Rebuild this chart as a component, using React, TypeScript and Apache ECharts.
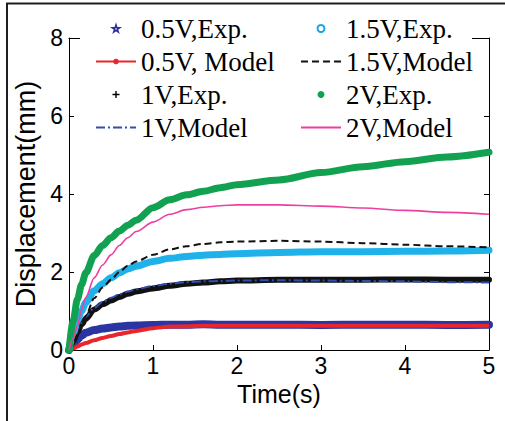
import React, { useEffect, useRef } from "react";
import * as echarts from "echarts";

const timeS = [0, 0.05, 0.1, 0.15, 0.2, 0.3, 0.4, 0.5, 0.6, 0.7, 0.8, 1.0, 1.2, 1.4, 1.6, 1.8, 2.0, 2.5, 3.0, 3.5, 4.0, 4.5, 5.0];

const exp05 = [0, 0.15, 0.27, 0.37, 0.44, 0.51, 0.55, 0.58, 0.6, 0.62, 0.63, 0.64, 0.65, 0.65, 0.66, 0.65, 0.65, 0.65, 0.64, 0.65, 0.65, 0.64, 0.65];
const model05 = [0, 0.04, 0.09, 0.14, 0.18, 0.25, 0.31, 0.36, 0.41, 0.45, 0.49, 0.56, 0.6, 0.61, 0.62, 0.62, 0.62, 0.62, 0.62, 0.62, 0.62, 0.62, 0.62];
const exp1 = [0, 0.22, 0.45, 0.66, 0.8, 1.04, 1.17, 1.27, 1.36, 1.44, 1.5, 1.58, 1.65, 1.7, 1.73, 1.76, 1.78, 1.8, 1.8, 1.8, 1.81, 1.8, 1.8];
const model1 = [0, 0.25, 0.5, 0.7, 0.85, 1.08, 1.23, 1.34, 1.43, 1.5, 1.56, 1.64, 1.7, 1.74, 1.76, 1.77, 1.78, 1.79, 1.78, 1.77, 1.76, 1.74, 1.73];
const exp15 = [0, 0.42, 0.76, 1.0, 1.22, 1.52, 1.7, 1.85, 1.98, 2.08, 2.15, 2.27, 2.35, 2.4, 2.43, 2.45, 2.47, 2.5, 2.52, 2.52, 2.53, 2.54, 2.56];
const model15 = [0, 0.15, 0.4, 0.65, 0.88, 1.33, 1.6, 1.8, 2.0, 2.16, 2.27, 2.44, 2.58, 2.66, 2.72, 2.76, 2.78, 2.8, 2.78, 2.74, 2.7, 2.66, 2.63];
const exp2 = [0, 0.75, 1.3, 1.68, 1.98, 2.42, 2.68, 2.88, 3.05, 3.2, 3.33, 3.65, 3.85, 3.98, 4.07, 4.16, 4.24, 4.36, 4.55, 4.7, 4.83, 4.95, 5.07];
const model2 = [0, 0.3, 0.62, 1.05, 1.35, 1.85, 2.18, 2.44, 2.68, 2.88, 3.04, 3.28, 3.48, 3.6, 3.66, 3.7, 3.72, 3.72, 3.69, 3.64, 3.58, 3.53, 3.48];

const yTicks = [0, 2, 4, 6, 8];
const xTicks = [0, 1, 2, 3, 4, 5];

const names = {
  e05: "0.5V,Exp.",
  m05: "0.5V, Model",
  e1: "1V,Exp.",
  m1: "1V,Model",
  e15: "1.5V,Exp.",
  m15: "1.5V,Model",
  e2: "2V,Exp.",
  m2: "2V,Model",
};

const pairs = (ys: number[]) => timeS.map((t, i) => [t, ys[i]]);

const STAR = "path://M50,0 L61,35 L98,35 L68,57 L79,91 L50,70 L21,91 L32,57 L2,35 L39,35 Z";
const PLUS = "path://M4,0H6V4H10V6H6V10H4V6H0V4H4Z";

export default function App() {
  const ref = useRef<HTMLDivElement>(null);
  useEffect(() => {
    if (!ref.current) return;
    const chart = echarts.init(ref.current, null, { renderer: "svg" });
    const sans = "'Liberation Sans', Arial, sans-serif";
    const serif = "'Liberation Serif', 'Times New Roman', serif";
    const expLine = (name: string, data: number[], color: string, width: number) => ({
      name,
      type: "line",
      data: pairs(data),
      symbol: "none",
      smooth: 0.3,
      smoothMonotone: "x",
      itemStyle: { color },
      lineStyle: { color, width, cap: "round", join: "round" },
    });
    const modelLine = (name: string, data: number[], color: string, width: number, type: any) => ({
      name,
      type: "line",
      data: pairs(data),
      symbol: "none",
      smooth: 0.3,
      smoothMonotone: "x",
      itemStyle: { color },
      lineStyle: { color, width, type },
    });
    const legendText = { fontFamily: serif, fontSize: 27, color: "#000", lineHeight: 27 };
    const hidden = { opacity: 0 };
    chart.setOption({
      animation: false,
      backgroundColor: "#fff",
      grid: { left: 69, right: 16, top: 38, bottom: 71 },
      xAxis: [
        {
          type: "value",
          min: 0,
          max: 5,
          interval: 1,
          name: "Time(s)",
          nameLocation: "middle",
          nameGap: 28,
          nameTextStyle: { fontFamily: sans, fontSize: 25, color: "#000" },
          axisLine: { show: true, onZero: false, lineStyle: { color: "#000", width: 1 } },
          axisTick: { show: true, inside: true, length: 5, lineStyle: { color: "#000" } },
          axisLabel: {
            fontFamily: sans,
            fontSize: 23,
            color: "#000",
            margin: 4,
            formatter: (v: number) => (xTicks.includes(v) ? String(v) : ""),
          },
          splitLine: { show: false },
        },
        {
          type: "value",
          position: "top",
          min: 0,
          max: 5,
          interval: 1,
          axisLine: { show: true, onZero: false, lineStyle: { color: "#000", width: 1 } },
          axisTick: { show: true, inside: true, length: 5, lineStyle: { color: "#000" } },
          axisLabel: { show: false },
          splitLine: { show: false },
        },
      ],
      yAxis: [
        {
          type: "value",
          min: 0,
          max: 8,
          interval: 2,
          name: "Displacement(mm)",
          nameLocation: "middle",
          nameGap: 24,
          nameTextStyle: { fontFamily: sans, fontSize: 27, color: "#000" },
          axisLine: { show: true, onZero: false, lineStyle: { color: "#000", width: 1 } },
          axisTick: { show: true, inside: true, length: 5, lineStyle: { color: "#000" } },
          axisLabel: {
            fontFamily: sans,
            fontSize: 23,
            color: "#000",
            margin: 6,
            formatter: (v: number) => (yTicks.includes(v) ? String(v) : ""),
          },
          splitLine: { show: false },
        },
        {
          type: "value",
          position: "right",
          min: 0,
          max: 8,
          interval: 2,
          axisLine: { show: true, onZero: false, lineStyle: { color: "#000", width: 1 } },
          axisTick: { show: true, inside: true, length: 5, lineStyle: { color: "#000" } },
          axisLabel: { show: false },
          splitLine: { show: false },
        },
      ],
      legend: [
        {
          orient: "vertical",
          left: 95,
          top: 15,
          padding: 0,
          itemWidth: 40,
          itemHeight: 7,
          itemGap: 6,
          textStyle: legendText,
          data: [
            { name: names.e05, icon: STAR, itemStyle: { color: "#fff", borderColor: "#2b2f9c", borderWidth: 1.6 } },
            { name: names.m05 },
            { name: names.e1, icon: PLUS, itemStyle: { color: "#000" } },
            { name: names.m1, itemStyle: hidden },
          ],
        },
        {
          orient: "vertical",
          left: 300,
          top: 15,
          padding: 0,
          itemWidth: 40,
          itemHeight: 7,
          itemGap: 6,
          textStyle: legendText,
          data: [
            { name: names.e15, icon: "emptyCircle", itemStyle: { color: "#1aa7e4" } },
            { name: names.m15, itemStyle: hidden },
            { name: names.e2, icon: "circle", itemStyle: { color: "#12a150" } },
            { name: names.m2, itemStyle: hidden },
          ],
        },
      ],
      graphic: [
        {
          type: "rect",
          z: 3,
          silent: true,
          shape: { x: 80, y: 10, width: 392, height: 135 },
          style: { fill: "#fff" },
        },
        {
          type: "rect",
          z: 10,
          silent: true,
          shape: { x: 7, y: 3.5, width: 530, height: 450 },
          style: { fill: "none", stroke: "#1e1e1e", lineWidth: 2 },
        },
      ],
      series: [
        expLine(names.e05, exp05, "#2a34a2", 8),
        modelLine(names.m05, model05, "#e8262b", 4, "solid"),
        expLine(names.e1, exp1, "#111111", 6),
        modelLine(names.m1, model1, "#2e4fb3", 2, [9, 3, 2, 3]),
        expLine(names.e15, exp15, "#1fb1ea", 7),
        modelLine(names.m15, model15, "#111111", 2, [7, 4]),
        expLine(names.e2, exp2, "#12a150", 7),
        modelLine(names.m2, model2, "#ee3fa0", 1.6, "solid"),
      ],
    });
    return () => chart.dispose();
  }, []);
  return (
    <div
      ref={ref}
      style={{ position: "fixed", left: 0, top: 0, width: 505, height: 421, background: "#fff" }}
    />
  );
}
